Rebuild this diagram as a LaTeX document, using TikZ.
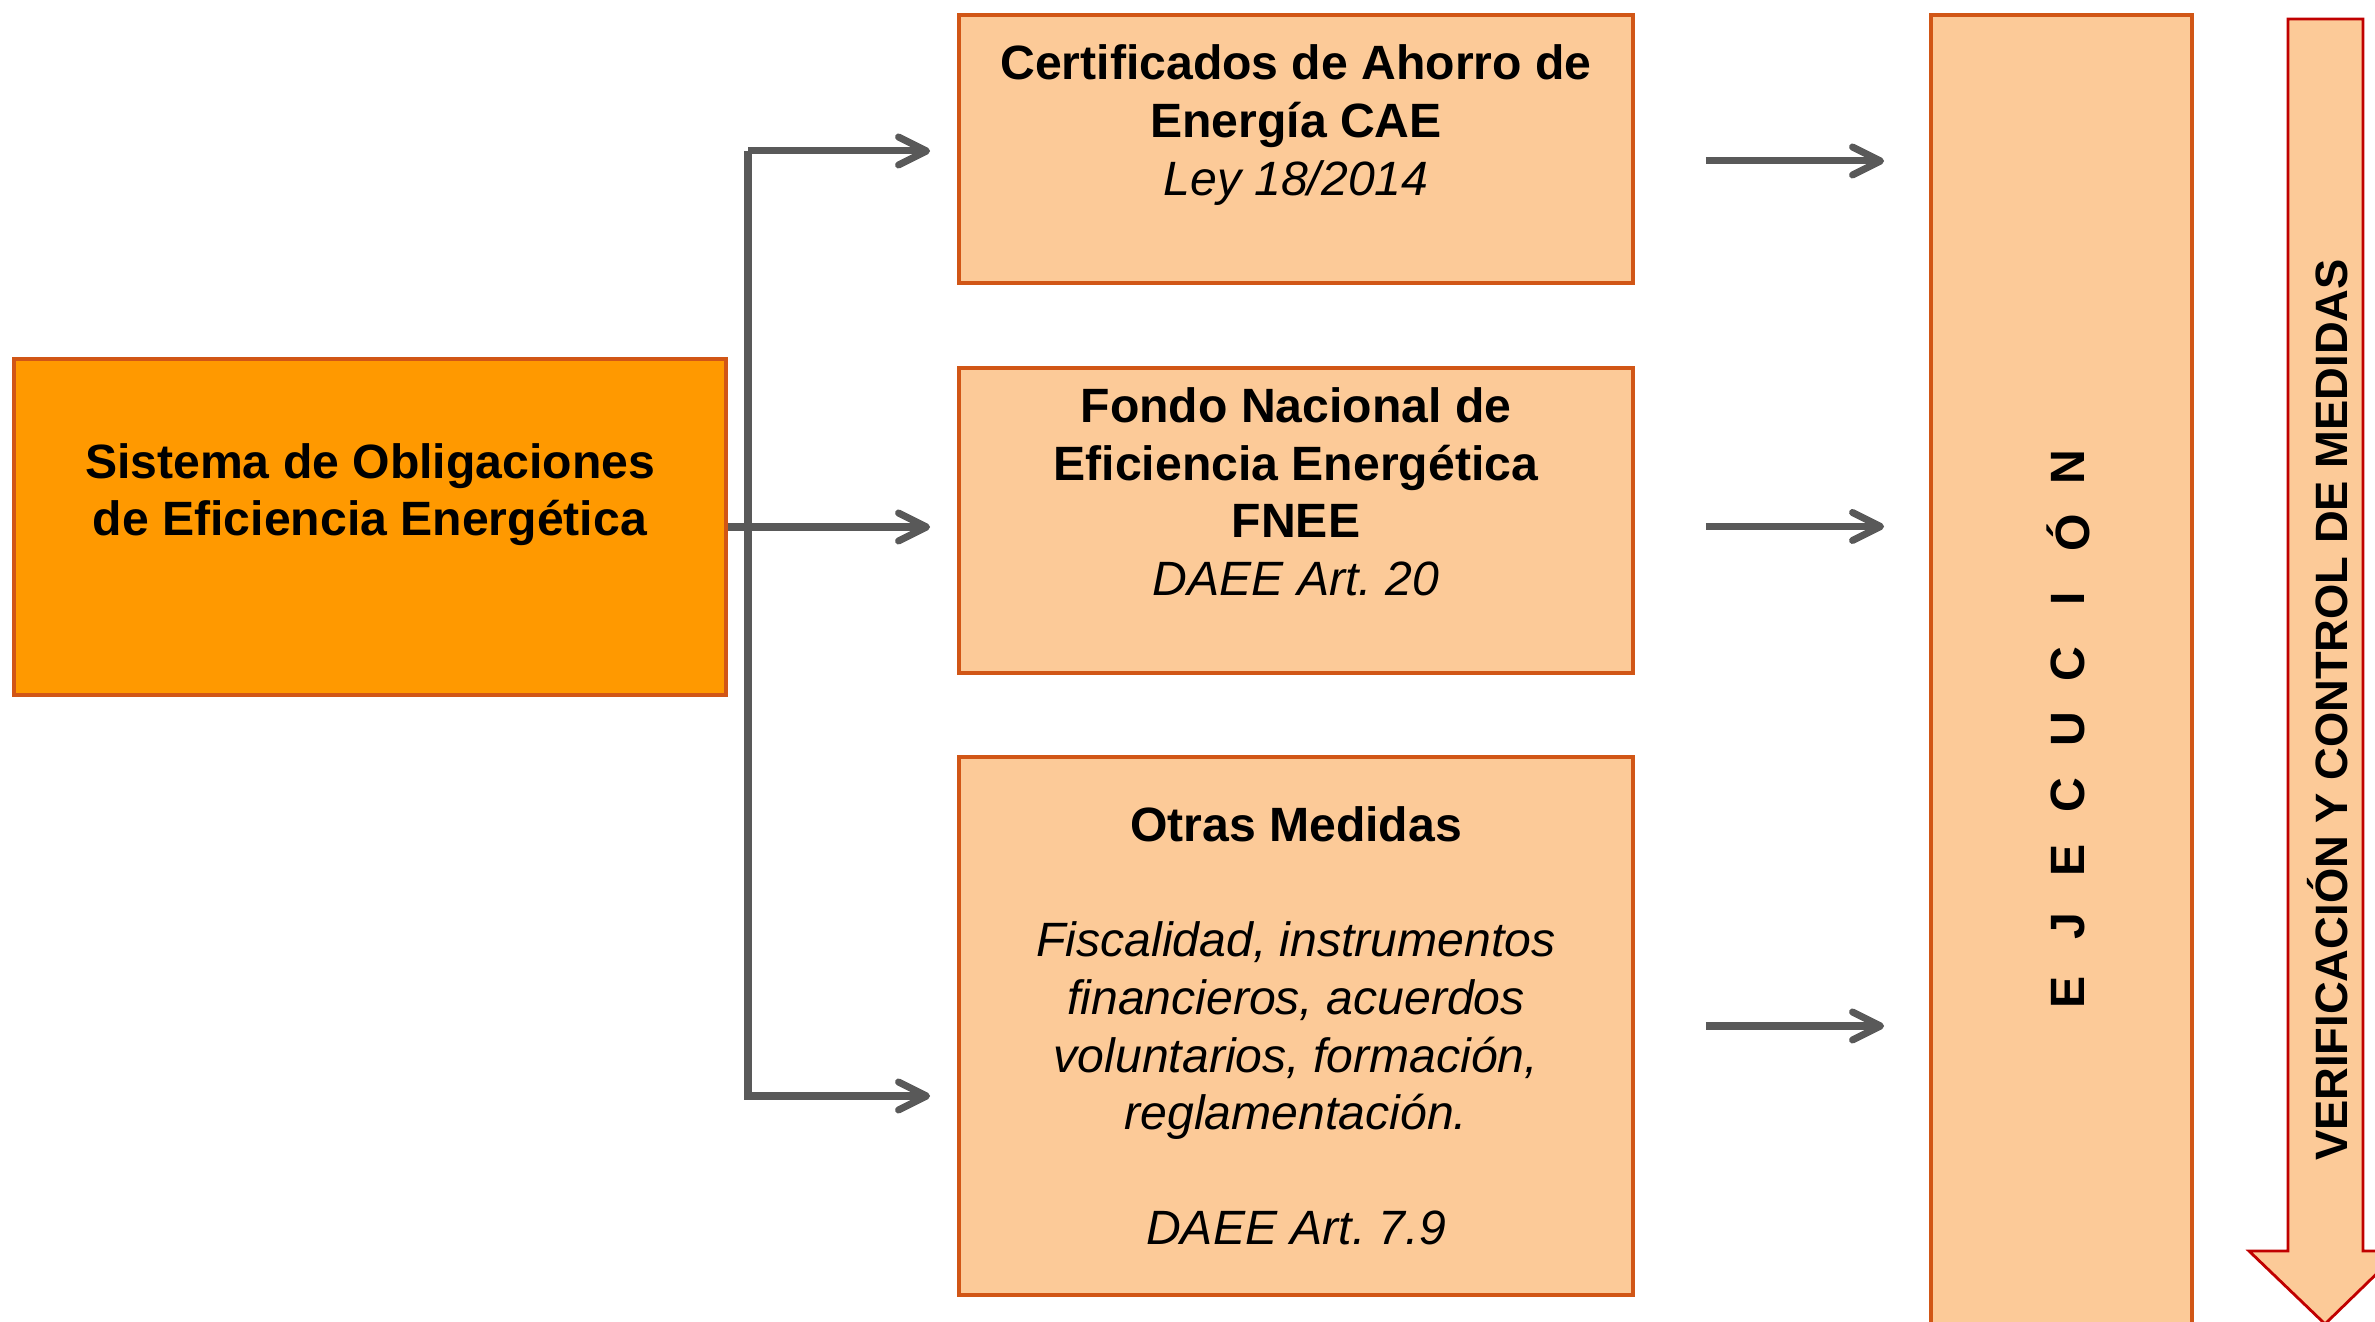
\documentclass[tikz,border=0pt]{standalone}
\usepackage{fontspec}
\setmainfont{Liberation Sans}
\usepackage{xcolor}
\usepackage{tikz}
\definecolor{naranja}{RGB}{255, 153, 0}
\definecolor{melocoton}{RGB}{252, 202, 152}
\definecolor{borde}{RGB}{209, 86, 22}
\definecolor{gris}{RGB}{89, 89, 89}
\definecolor{rojo}{RGB}{192, 0, 0}
\usetikzlibrary{arrows.meta, positioning, calc}

\begin{document}
\begin{tikzpicture}[
    caja/.style={rectangle, draw=borde, line width=1.1pt, fill=melocoton, align=center, inner sep=0pt, font=\fontsize{13.7}{16.4}\selectfont},
    principal/.style={caja, fill=naranja},
    medida/.style={caja, minimum width=6.74cm},
    letra/.style={rotate=90, font=\bfseries\fontsize{13.7}{16.4}\selectfont},
    flecha/.style={draw=gris, line width=2pt, -{Straight Barb[length=2.8mm, width=2.8mm, round]}}
]
    \useasboundingbox (0,0) rectangle (23.75,13.22);

    % Main box
    \node[principal, minimum width=7.12cm, minimum height=3.36cm] (sistema) at (3.70,7.95)
        {\textbf{Sistema de Obligaciones}\\\textbf{de Eficiencia Energética}\\\strut};

    % Measure boxes
    \node[medida, minimum height=2.68cm] (cae) at (12.96,11.73)
        {\textbf{Certificados de Ahorro de}\\\textbf{Energía CAE}\\\textit{Ley 18/2014}\\\mbox{}};
    \node[medida, minimum height=3.05cm] (fnee) at (12.96,8.015)
        {\textbf{Fondo Nacional de}\\\textbf{Eficiencia Energética}\\\textbf{FNEE}\\\textit{DAEE Art.\ 20}\\\mbox{}};
    \node[medida, minimum height=5.38cm] (otras) at (12.96,2.96)
        {\textbf{Otras Medidas}\\\mbox{}\\\textit{Fiscalidad, instrumentos}\\\textit{financieros, acuerdos}\\\textit{voluntarios, formación,}\\\textit{reglamentación.}\\\mbox{}\\\textit{DAEE Art.\ 7.9}};

    % Execution column
    \node[caja, minimum width=2.61cm, minimum height=13.6cm] (ejec) at (20.615,6.27) {};
    \foreach \l [count=\i] in {E,J,E,C,U,C,I,Ó,N}
        \node[letra] (ej\i) at (20.68,{2.644+0.656*\i}) {\l};

    % Verification arrow
    \filldraw[fill=melocoton, draw=rojo, line width=0.8pt] (22.88,13.03) -- (23.63,13.03) -- (23.63,0.71) -- (24.0,0.71)
        -- (23.25,-0.02) -- (22.49,0.71) -- (22.88,0.71) -- cycle;
    \node[letra, font=\bfseries\fontsize{12.9}{15.5}\selectfont] (verif) at (23.28,6.12) {VERIFICACIÓN Y CONTROL DE MEDIDAS};

    % Connectors
    \coordinate (tA) at (7.48,11.71);
    \coordinate (tB) at (7.48,2.26);
    \draw[flecha, shorten >=0.27cm] (tA) -- (tA -| cae.west);
    \draw[flecha, shorten >=0.27cm] (sistema.east) -- (sistema.east -| fnee.west);
    \draw[flecha, shorten >=0.27cm] (tA) -- (tB) -- (tB -| otras.west);

    \draw[flecha, shorten <=0.71cm, shorten >=0.45cm] ([yshift=-1.2mm]cae.east) -- ([yshift=-1.2mm]cae.east -| ejec.west);
    \draw[flecha, shorten <=0.71cm, shorten >=0.45cm] ([yshift=-0.6mm]fnee.east) -- ([yshift=-0.6mm]fnee.east -| ejec.west);
    \draw[flecha, shorten <=0.71cm, shorten >=0.45cm] (otras.east) -- (otras.east -| ejec.west);
\end{tikzpicture}
\end{document}
